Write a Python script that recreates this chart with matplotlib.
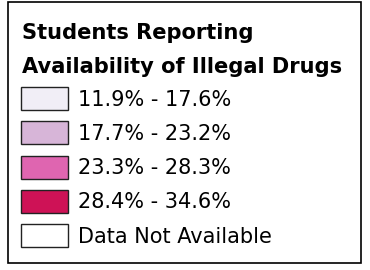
import matplotlib
matplotlib.use("Agg")
import matplotlib.pyplot as plt
from matplotlib.patches import Rectangle

title_lines = ["Students Reporting", "Availability of Illegal Drugs"]
labels = ["11.9% - 17.6%", "17.7% - 23.2%", "23.3% - 28.3%", "28.4% - 34.6%", "Data Not Available"]
colors = ["#f1eef6", "#d7b5d8", "#df65b0", "#ce1256", "#ffffff"]

W, H = 370, 270
fig = plt.figure(figsize=(W / 100, H / 100), dpi=100)
ax = fig.add_axes([0, 0, 1, 1])
ax.set_xlim(0, W)
ax.set_ylim(H, 0)
ax.axis("off")

# frame
ax.add_patch(Rectangle((7.5, 1.5), 353, 261.5, fill=False, edgecolor="#000000", lw=1.2))

# title
ax.text(22, 39, title_lines[0], fontsize=15.1, fontweight="bold", family="DejaVu Sans",
        va="baseline", ha="left", color="#000000")
ax.text(22, 73, title_lines[1], fontsize=15.1, fontweight="bold", family="DejaVu Sans",
        va="baseline", ha="left", color="#000000")

y0, pitch, sw_h, sw_w, x_sw, x_txt = 87, 34.3, 23, 47, 21, 78
for i, (lab, col) in enumerate(zip(labels, colors)):
    y = y0 + i * pitch
    ax.add_patch(Rectangle((x_sw, y), sw_w, sw_h, facecolor=col, edgecolor="#222222", lw=1.0))
    ax.text(x_txt, y + sw_h / 2 + 1, lab, fontsize=15.0, family="DejaVu Sans",
            va="center", ha="left", color="#000000")

fig.savefig("out.png", dpi=100, facecolor="white")
